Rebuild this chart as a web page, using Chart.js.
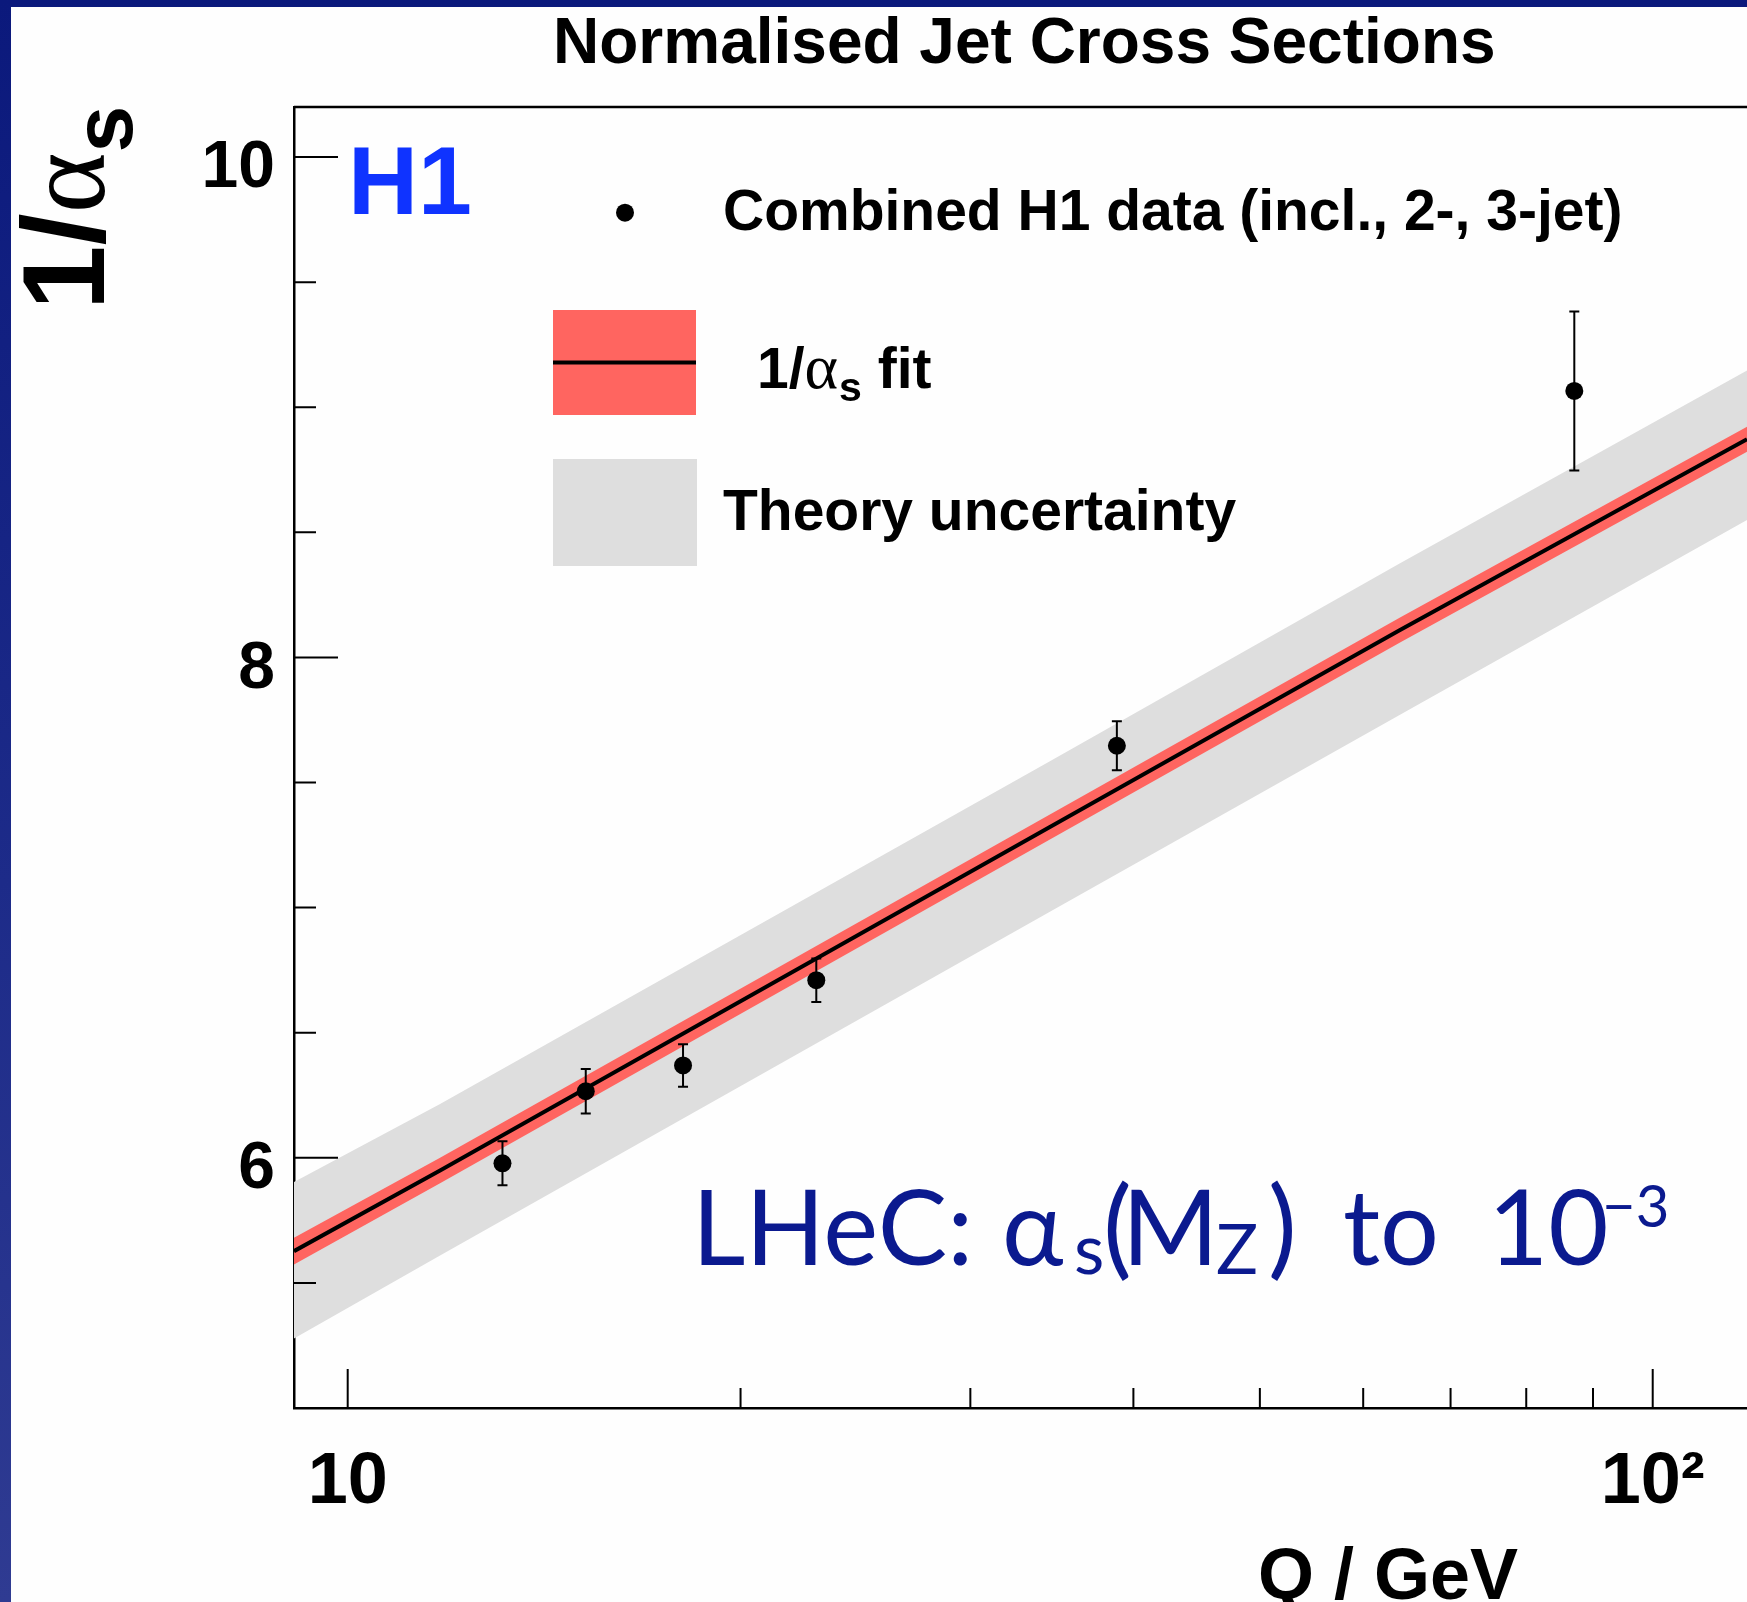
<!DOCTYPE html>
<html>
<head>
<meta charset="utf-8">
<script src="https://cdn.jsdelivr.net/npm/chart.js@4.4.1/dist/chart.umd.min.js"></script>
<style>
  html, body { margin: 0; padding: 0; width: 1747px; height: 1602px; overflow: hidden; background: #fff; }
  #frame { position: absolute; left: 0; top: 0; width: 1747px; height: 1602px;
           background: linear-gradient(to bottom, #0b197c 0%, #1d2b89 55%, #2f3b92 100%); }
  #sheet { position: absolute; left: 11px; top: 7px; right: 0; bottom: 0; background: #fefefe; }
  #c { position: absolute; left: 0; top: 0; }
</style>
</head>
<body>
<div id="frame"><div id="sheet"></div></div>
<canvas id="c" width="1747" height="1602"></canvas>
<script>
// Combined H1 jet data: scale Q [GeV], 1/alpha_s and its total uncertainty
const dataQ        = [13.14, 15.22, 18.07, 22.86, 38.85, 87.08];
const dataInvAlpha = [5.978, 6.266, 6.369, 6.710, 7.647, 9.065];
const dataErr      = [0.088, 0.089, 0.085, 0.087, 0.098, 0.318];

// 1/alpha_s fit with its experimental band and the theory band, sampled in Q
const bandQ       = [9.096, 11.77, 34.52, 64.03, 118.1];
const fitCentral  = [5.627, 5.949, 7.322, 8.110, 8.872];
const fitUpper    = [5.680, 6.000, 7.372, 8.160, 8.922];
const fitLower    = [5.574, 5.898, 7.272, 8.060, 8.822];
const theoryUpper = [5.903, 6.215, 7.585, 8.376, 9.147];
const theoryLower = [5.278, 5.610, 6.983, 7.771, 8.549];

// Axes
const xRange        = [9.096, 118.1];
const yRange        = [5, 10.2];
const xLabelValues  = [10, 100];
const xTickLabels   = ['10', '10\u00B2'];
const xMinorTicks   = [20, 30, 40, 50, 60, 70, 80, 90];
const yLabelValues  = [6, 8, 10];
const yTickLabels   = ['6', '8', '10'];
const yMinorTicks   = [5.5, 6.5, 7, 7.5, 8.5, 9, 9.5];

const RED  = 'rgb(255,101,96)';
const GREY = '#dedede';
const SANS = '"Liberation Sans", Arial, Helvetica, sans-serif';
const SERIF = '"Liberation Serif", "Times New Roman", serif';
const GILL = 'Lato, "Open Sans", sans-serif';

const pts = (xs, ys) => xs.map((q, i) => ({ x: q, y: ys[i] }));

// draw a sequence of text pieces; each piece may have its own font, shift and start
function drawRuns(ctx, x, y, runs) {
  let cx = x;
  for (const r of runs) {
    ctx.font = r.font;
    if (r.x !== undefined) cx = x + r.x;
    ctx.fillText(r.t, cx, y + (r.dy || 0));
    cx += ctx.measureText(r.t).width + (r.gap || 0);
  }
  return cx;
}

const decorations = {
  id: 'decorations',
  afterDatasetsDraw(chart) {
    const { ctx, scales: { x, y } } = chart;
    // vertical error bars with small caps
    ctx.save();
    ctx.strokeStyle = '#000';
    ctx.lineWidth = 2;
    dataQ.forEach((q, i) => {
      const px = x.getPixelForValue(q);
      const y1 = y.getPixelForValue(dataInvAlpha[i] + dataErr[i]);
      const y2 = y.getPixelForValue(dataInvAlpha[i] - dataErr[i]);
      ctx.beginPath();
      ctx.moveTo(px, y1); ctx.lineTo(px, y2);
      ctx.moveTo(px - 5, y1); ctx.lineTo(px + 5, y1);
      ctx.moveTo(px - 5, y2); ctx.lineTo(px + 5, y2);
      ctx.stroke();
    });
    ctx.restore();
  },
  afterDraw(chart) {
    const { ctx, chartArea: a, scales: { x, y } } = chart;
    ctx.save();

    // frame top line
    ctx.strokeStyle = '#000';
    ctx.lineWidth = 2.5;
    ctx.beginPath();
    ctx.moveTo(a.left, a.top); ctx.lineTo(chart.width, a.top);
    ctx.stroke();

    // inward tick marks
    ctx.lineWidth = 2;
    ctx.beginPath();
    yLabelValues.forEach(v => { const p = y.getPixelForValue(v); ctx.moveTo(a.left, p); ctx.lineTo(a.left + 44, p); });
    yMinorTicks.forEach(v => { const p = y.getPixelForValue(v); ctx.moveTo(a.left, p); ctx.lineTo(a.left + 22, p); });
    xLabelValues.forEach(v => { const p = x.getPixelForValue(v); ctx.moveTo(p, a.bottom); ctx.lineTo(p, a.bottom - 39); });
    xMinorTicks.forEach(v => { const p = x.getPixelForValue(v); ctx.moveTo(p, a.bottom); ctx.lineTo(p, a.bottom - 20); });
    ctx.stroke();

    ctx.textBaseline = 'alphabetic';
    ctx.textAlign = 'left';
    ctx.fillStyle = '#000';

    // title
    ctx.font = 'bold 64px ' + SANS;
    ctx.fillText('Normalised Jet Cross Sections', 553, 63);

    // y-axis title, rotated
    ctx.save();
    ctx.translate(104, 310);
    ctx.rotate(-Math.PI / 2);
    drawRuns(ctx, 0, 0, [
      { t: '1/', font: 'bold 116px ' + SANS },
      { t: '\u03B1', font: '116px ' + SERIF },
      { t: 's', font: 'bold 84px ' + SANS, dy: 28 }
    ]);
    ctx.restore();

    // x-axis title
    ctx.font = 'bold 72px ' + SANS;
    ctx.fillText('Q / GeV', 1258, 1599);

    // experiment tag
    ctx.fillStyle = '#0f33ff';
    ctx.font = 'bold 97px ' + SANS;
    ctx.fillText('H1', 348, 214);

    // legend
    ctx.fillStyle = '#000';
    ctx.beginPath();
    ctx.arc(625, 212.7, 9, 0, Math.PI * 2);
    ctx.fill();
    ctx.font = 'bold 57px ' + SANS;
    ctx.fillText('Combined H1 data (incl., 2-, 3-jet)', 723, 230);

    ctx.fillStyle = RED;
    ctx.fillRect(553, 310, 143, 105);
    ctx.fillStyle = '#000';
    ctx.fillRect(553, 360.5, 143, 4);
    drawRuns(ctx, 757, 388, [
      { t: '1/', font: 'bold 57px ' + SANS },
      { t: '\u03B1', font: '64px ' + SERIF, gap: 1 },
      { t: 's', font: 'bold 41px ' + SANS, dy: 13 },
      { t: ' fit', font: 'bold 57px ' + SANS }
    ]);

    ctx.fillStyle = GREY;
    ctx.fillRect(553, 459, 144, 107);
    ctx.fillStyle = '#000';
    ctx.font = 'bold 57px ' + SANS;
    ctx.fillText('Theory uncertainty', 723, 530);

    // LHeC projection caption
    ctx.fillStyle = '#0b1a8f';
    drawRuns(ctx, 0, 1265, [
      { t: 'LHeC:', font: '104px ' + GILL, x: 692 },
      { t: '\u03B1', font: '104px ' + GILL, x: 1002 },
      { t: 's', font: '70px ' + GILL, x: 1074, dy: 9 },
      { t: '(', font: '108px ' + GILL, x: 1103 },
      { t: 'M', font: '104px ' + GILL, x: 1122 },
      { t: 'Z', font: '70px ' + GILL, x: 1216, dy: 9 },
      { t: ')', font: '108px ' + GILL, x: 1268 },
      { t: 'to', font: '104px ' + GILL, x: 1343 },
      { t: '10', font: '104px ' + GILL, x: 1488 },
      { t: '\u22123', font: '58px ' + GILL, x: 1602, dy: -38 }
    ]);

    ctx.restore();
  }
};

new Chart(document.getElementById('c'), {
  type: 'line',
  data: {
    datasets: [
      { label: 'Combined H1 data', data: pts(dataQ, dataInvAlpha), showLine: false,
        pointRadius: 9, pointBackgroundColor: '#000', pointBorderWidth: 0, borderColor: '#000' },
      { label: '1/alpha_s fit', data: pts(bandQ, fitCentral), borderColor: '#000', borderWidth: 4,
        pointRadius: 0, fill: false, tension: 0 },
      { label: 'fit band up', data: pts(bandQ, fitUpper), borderColor: 'transparent', borderWidth: 0,
        pointRadius: 0, fill: '+1', backgroundColor: RED },
      { label: 'fit band down', data: pts(bandQ, fitLower), borderColor: 'transparent', borderWidth: 0,
        pointRadius: 0, fill: false },
      { label: 'theory up', data: pts(bandQ, theoryUpper), borderColor: 'transparent', borderWidth: 0,
        pointRadius: 0, fill: '+1', backgroundColor: GREY },
      { label: 'theory down', data: pts(bandQ, theoryLower), borderColor: 'transparent', borderWidth: 0,
        pointRadius: 0, fill: false }
    ]
  },
  options: {
    responsive: false,
    animation: false,
    layout: { autoPadding: false, padding: { top: 107, right: 0, bottom: 0, left: 0 } },
    plugins: { legend: { display: false }, tooltip: { enabled: false }, title: { display: false } },
    scales: {
      x: {
        type: 'logarithmic',
        min: xRange[0], max: xRange[1],
        grid: { display: false, drawTicks: false },
        border: { display: true, color: '#000', width: 2.5 },
        afterBuildTicks: s => { s.ticks = xLabelValues.map(v => ({ value: v })); },
        afterFit: s => { s.height = 194; s.paddingLeft = 0; s.paddingRight = 0; },
        ticks: {
          autoSkip: false, maxRotation: 0, padding: 32, color: '#000',
          font: { family: SANS, size: 72, weight: 'bold' },
          callback: (v, i) => xTickLabels[i]
        }
      },
      y: {
        type: 'linear',
        min: yRange[0], max: yRange[1],
        grid: { display: false, drawTicks: false },
        border: { display: true, color: '#000', width: 2.5 },
        afterBuildTicks: s => { s.ticks = yLabelValues.map(v => ({ value: v })); },
        afterFit: s => { s.width = 294; s.paddingTop = 0; s.paddingBottom = 0; },
        ticks: {
          autoSkip: false, padding: 19, labelOffset: 12, color: '#000',
          font: { family: SANS, size: 66, weight: 'bold' },
          callback: (v, i) => yTickLabels[i]
        }
      }
    }
  },
  plugins: [decorations]
});
</script>
</body>
</html>
